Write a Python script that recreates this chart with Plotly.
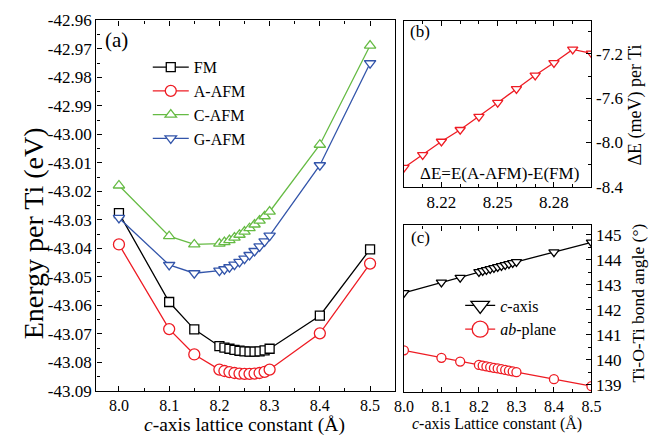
import plotly.graph_objects as go

W, H = 672, 444
FONT = "Liberation Serif"

# ---------------- data ----------------
lattice_c = [8.0, 8.1, 8.15, 8.2, 8.21, 8.22, 8.23, 8.24, 8.25, 8.26, 8.27, 8.28, 8.29, 8.3, 8.4, 8.5]

energy_fm = [-43.0276, -43.0588, -43.0684, -43.0743, -43.0748, -43.0752, -43.0756, -43.0759,
             -43.0761, -43.0762, -43.0762, -43.0761, -43.0758, -43.0752, -43.0636, -43.0403]
energy_a_afm = [-43.0386, -43.0683, -43.0772, -43.0825, -43.0830, -43.0834, -43.0837, -43.0839,
                -43.0840, -43.0840, -43.0839, -43.0837, -43.0833, -43.0825, -43.0698, -43.0453]
energy_c_afm = [-43.0179, -43.0357, -43.0386, -43.0383, -43.0378, -43.0371, -43.0362, -43.0352,
                -43.0341, -43.0329, -43.0316, -43.0302, -43.0287, -43.0271, -43.0036, -42.9688]
energy_g_afm = [-43.0293, -43.0458, -43.0487, -43.0478, -43.0473, -43.0466, -43.0457, -43.0447,
                -43.0436, -43.0423, -43.0409, -43.0393, -43.0375, -43.0355, -43.0108, -42.9750]

lattice_b = [8.20, 8.21, 8.22, 8.23, 8.24, 8.25, 8.26, 8.27, 8.28, 8.29, 8.30]
delta_e = [-8.228, -8.112, -7.991, -7.885, -7.766, -7.640, -7.516, -7.393, -7.280, -7.159, -7.194]

angle_c_axis = [142.68, 143.10, 143.29, 143.52, 143.56, 143.60, 143.64, 143.68, 143.72, 143.76,
                143.80, 143.84, 143.88, 143.92, 144.31, 144.70]
angle_ab_plane = [140.38, 140.08, 139.93, 139.80, 139.77, 139.74, 139.71, 139.68, 139.66, 139.63,
                  139.60, 139.57, 139.54, 139.51, 139.23, 138.95]

a_yticks = [-43.09, -43.08, -43.07, -43.06, -43.05, -43.04, -43.03, -43.02, -43.01, -43.00,
            -42.99, -42.98, -42.97, -42.96]
a_yticktext = ["-43.09", "-43.08", "-43.07", "-43.06", "-43.05", "-43.04", "-43.03", "-43.02",
               "-43.01", "-43.00", "-42.99", "-42.98", "-42.97", "-42.96"]
a_xticks = [8.0, 8.1, 8.2, 8.3, 8.4, 8.5]
a_xticktext = ["8.0", "8.1", "8.2", "8.3", "8.4", "8.5"]
b_yticks = [-8.4, -8.0, -7.6, -7.2]
b_yticktext = ["-8.4", "-8.0", "-7.6", "-7.2"]
b_xticks = [8.22, 8.25, 8.28]
b_xticktext = ["8.22", "8.25", "8.28"]
c_yticks = [139, 140, 141, 142, 143, 144, 145]
c_xticks = [8.0, 8.1, 8.2, 8.3, 8.4, 8.5]
c_xticktext = ["8.0", "8.1", "8.2", "8.3", "8.4", "8.5"]

BLACK = "#000000"
RED = "#EE1C24"
GREEN = "#66BB44"
BLUE = "#3355AA"


def px_x(p):
    return p / W


def px_y(p):
    return 1 - p / H


fig = go.Figure()

# ---------------- panel (a) ----------------
series_a = [
    ("FM", energy_fm, BLACK, "square", 9),
    ("A-AFM", energy_a_afm, RED, "circle", 11),
    ("C-AFM", energy_c_afm, GREEN, "triangle-up", 10),
    ("G-AFM", energy_g_afm, BLUE, "triangle-down", 10),
]
for name, ys, col, sym, sz in series_a:
    fig.add_trace(go.Scatter(
        x=lattice_c, y=ys, name=name, mode="lines+markers",
        line=dict(color=col, width=1.3),
        marker=dict(symbol=sym, size=sz, color="white", line=dict(color=col, width=1.3)),
        xaxis="x", yaxis="y", legend="legend",
    ))

# ---------------- panel (b) ----------------
fig.add_trace(go.Scatter(
    x=lattice_b, y=delta_e, mode="lines+markers", showlegend=False,
    line=dict(color=RED, width=1.3),
    marker=dict(symbol="triangle-down", size=9, color="white", line=dict(color=RED, width=1.3)),
    xaxis="x2", yaxis="y2",
))

# ---------------- panel (c) ----------------
fig.add_trace(go.Scatter(
    x=lattice_c, y=angle_c_axis, mode="lines+markers", showlegend=False,
    line=dict(color=BLACK, width=1.3),
    marker=dict(symbol="triangle-down", size=9, color="white", line=dict(color=BLACK, width=1.3)),
    xaxis="x3", yaxis="y3",
))
fig.add_trace(go.Scatter(
    x=lattice_c, y=angle_ab_plane, mode="lines+markers", showlegend=False,
    line=dict(color=RED, width=1.3),
    marker=dict(symbol="circle", size=9, color="white", line=dict(color=RED, width=1.3)),
    xaxis="x3", yaxis="y3",
))
# legend entries for (c) with larger symbols
fig.add_trace(go.Scatter(
    x=[None], y=[None], name="<i>c</i>-axis", mode="lines+markers",
    line=dict(color=BLACK, width=1.3),
    marker=dict(symbol="triangle-down", size=16, color="white", line=dict(color=BLACK, width=1.3)),
    xaxis="x3", yaxis="y3", legend="legend2",
))
fig.add_trace(go.Scatter(
    x=[None], y=[None], name="<i>ab</i>-plane", mode="lines+markers",
    line=dict(color=RED, width=1.3),
    marker=dict(symbol="circle", size=16, color="white", line=dict(color=RED, width=1.3)),
    xaxis="x3", yaxis="y3", legend="legend2",
))

tickfont = dict(family=FONT, size=17, color="black")
xtickfont = dict(family=FONT, size=16, color="black")
common = dict(showline=True, linecolor="black", linewidth=1.4, ticks="inside", ticklen=5,
              tickwidth=1.1, tickcolor="black", showgrid=False, zeroline=False)

fig.update_layout(
    width=W, height=H,
    margin=dict(l=0, r=0, t=0, b=0),
    paper_bgcolor="white", plot_bgcolor="white",
    font=dict(family=FONT, size=17, color="black"),
    xaxis=dict(domain=[px_x(89), px_x(397)], range=[7.955, 8.55], anchor="y",
               tickmode="array", tickvals=a_xticks, ticktext=a_xticktext, mirror="ticks",
               minor=dict(ticks="inside", dtick=0.05, tick0=8.0, ticklen=3, tickcolor="black"),
               tickfont=xtickfont, **common),
    yaxis=dict(domain=[px_y(399), px_y(12)], range=[-43.09, -42.96], anchor="x",
               tickmode="array", tickvals=a_yticks, ticktext=a_yticktext, mirror=True,
               minor=dict(ticks="inside", dtick=0.005, tick0=-43.09, ticklen=3, tickcolor="black"),
               tickfont=tickfont, **common),
    xaxis2=dict(domain=[px_x(406), px_x(599.3)], range=[8.2, 8.3], anchor="y2",
                tickmode="array", tickvals=b_xticks, ticktext=b_xticktext, mirror="ticks",
                minor=dict(ticks="inside", dtick=0.01, tick0=8.2, ticklen=3, tickcolor="black"),
                tickfont=tickfont, **common),
    yaxis2=dict(domain=[px_y(185.7), px_y(12.3)], range=[-8.4, -6.9], anchor="x2", side="right",
                tickmode="array", tickvals=b_yticks, ticktext=b_yticktext, mirror=True,
                minor=dict(ticks="inside", dtick=0.2, tick0=-8.4, ticklen=3, tickcolor="black"),
                tickfont=tickfont, **common),
    xaxis3=dict(domain=[px_x(406), px_x(599.3)], range=[8.0, 8.5], anchor="y3",
                tickmode="array", tickvals=c_xticks, ticktext=c_xticktext, mirror="ticks",
                minor=dict(ticks="inside", dtick=0.05, tick0=8.0, ticklen=3, tickcolor="black"),
                tickfont=xtickfont, **common),
    yaxis3=dict(domain=[px_y(400), px_y(226)], range=[138.72, 145.38], anchor="x3", side="right",
                tickmode="array", tickvals=c_yticks, mirror=True,
                minor=dict(ticks="inside", dtick=0.5, tick0=139, ticklen=3, tickcolor="black"),
                tickfont=tickfont, **common),
    legend=dict(x=px_x(142), y=px_y(43), xanchor="left", yanchor="top",
                bgcolor="rgba(0,0,0,0)", borderwidth=0, itemwidth=36,
                font=dict(family=FONT, size=16, color="black"), tracegroupgap=0),
    legend2=dict(x=px_x(464), y=px_y(292), xanchor="left", yanchor="top",
                 bgcolor="rgba(0,0,0,0)", borderwidth=0, itemwidth=30,
                 font=dict(family=FONT, size=16, color="black"), tracegroupgap=0),
)

ann_font = lambda s: dict(family=FONT, size=s, color="black")
annotations = [
    dict(text="Energy per Ti (eV)", x=px_x(25), y=px_y(234), textangle=-90, font=ann_font(28)),
    dict(text="<i>c</i>-axis lattice constant (Å)", x=px_x(242), y=px_y(434.5), font=ann_font(19.5)),
    dict(text="(a)", x=px_x(110), y=px_y(32), font=ann_font(21)),
    dict(text="(b)", x=px_x(423), y=px_y(24), font=ann_font(17)),
    dict(text="(c)", x=px_x(423), y=px_y(239), font=ann_font(17)),
    dict(text="ΔE=E(A-AFM)-E(FM)", x=px_x(504), y=px_y(172), font=ann_font(17)),
    dict(text="ΔE (meV) per Ti", x=px_x(645), y=px_y(100), textangle=-90, font=ann_font(18)),
    dict(text="Ti-O-Ti bond angle (°)", x=px_x(647), y=px_y(307), textangle=-90, font=ann_font(17.5)),
    dict(text="<i>c</i>-axis Lattice constant (Å)", x=px_x(502), y=px_y(434), font=ann_font(16)),
]
for a in annotations:
    a.update(xref="paper", yref="paper", showarrow=False, xanchor="center", yanchor="middle")
fig.update_layout(annotations=annotations)

fig.write_html("out.html", config={"displayModeBar": False},
               post_script="document.body.style.margin='0';")
